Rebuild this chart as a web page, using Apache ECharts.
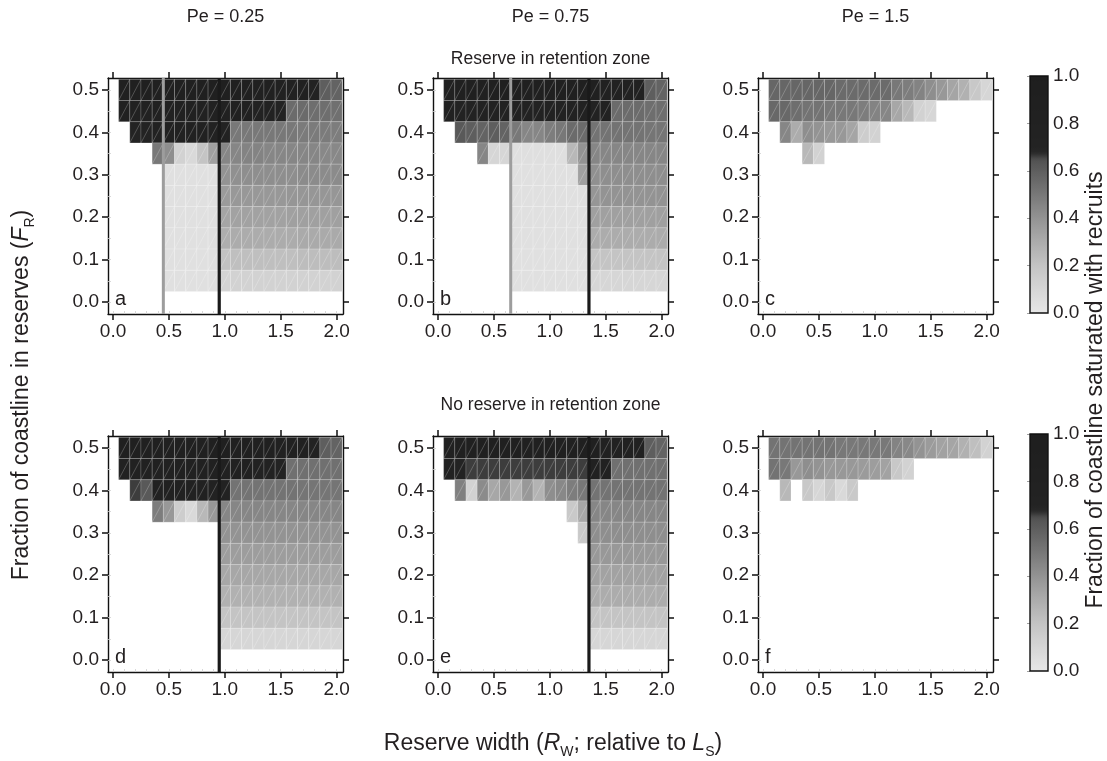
<!DOCTYPE html>
<html>
<head>
<meta charset="utf-8">
<script src="https://cdn.jsdelivr.net/npm/echarts@6/dist/echarts.min.js"></script>
<style>html,body{margin:0;padding:0;background:#fff}#c{width:1107px;height:761px}</style>
</head>
<body>
<div id="c"></div>
<script>
// ---------- DATA ----------
const xCenters = [0.0,0.1,0.2,0.3,0.4,0.5,0.6,0.7,0.8,0.9,1.0,1.1,1.2,1.3,1.4,1.5,1.6,1.7,1.8,1.9,2.0];
const yCenters = [0.5,0.45,0.4,0.35,0.3,0.25,0.2,0.15,0.1,0.05,0.0];
const xTickValues = [0.0,0.5,1.0,1.5,2.0];
const yTickValues = [0.0,0.1,0.2,0.3,0.4,0.5];
const cbTickValues = [0.0,0.2,0.4,0.6,0.8,1.0];
const panelLetters = ['a','b','c','d','e','f'];
const colTitles = ['Pe = 0.25','Pe = 0.75','Pe = 1.5'];
const rowTitles = ['Reserve in retention zone','No reserve in retention zone'];
const grayLineX = [0.45, 0.65, null, null, null, null];
const blackLineX = [0.95, 1.35, null, 0.95, 1.35, null];
const N = null;

const panelA = [
  [N,0.86,0.87,0.87,0.88,0.88,0.88,0.88,0.89,0.89,0.88,0.88,0.87,0.87,0.86,0.85,0.84,0.82,0.78,0.6,0.58],
  [N,0.8,0.81,0.82,0.82,0.83,0.83,0.83,0.83,0.83,0.82,0.81,0.8,0.78,0.76,0.72,0.55,0.55,0.54,0.54,0.53],
  [N,N,0.7,0.72,0.78,0.8,0.8,0.8,0.8,0.79,0.78,0.5,0.5,0.5,0.5,0.5,0.5,0.49,0.49,0.49,0.48],
  [N,N,N,N,0.5,0.42,0.12,0.08,0.2,0.35,0.45,0.45,0.46,0.46,0.45,0.45,0.45,0.45,0.45,0.44,0.44],
  [N,N,N,N,N,0.04,0.04,0.04,0.04,0.04,0.4,0.41,0.42,0.42,0.42,0.42,0.42,0.43,0.43,0.43,0.43],
  [N,N,N,N,N,0.04,0.04,0.04,0.04,0.04,0.37,0.38,0.38,0.38,0.38,0.38,0.39,0.39,0.39,0.39,0.39],
  [N,N,N,N,N,0.04,0.04,0.04,0.04,0.04,0.33,0.34,0.34,0.34,0.34,0.34,0.35,0.35,0.35,0.35,0.35],
  [N,N,N,N,N,0.04,0.04,0.04,0.04,0.04,0.29,0.3,0.3,0.3,0.3,0.3,0.3,0.31,0.31,0.31,0.31],
  [N,N,N,N,N,0.04,0.04,0.04,0.04,0.04,0.21,0.22,0.22,0.22,0.22,0.22,0.22,0.23,0.23,0.23,0.23],
  [N,N,N,N,N,0.04,0.04,0.04,0.04,0.04,0.11,0.12,0.12,0.12,0.12,0.12,0.12,0.12,0.12,0.12,0.12],
  [N,N,N,N,N,N,N,N,N,N,N,N,N,N,N,N,N,N,N,N,N]
];
const panelB = [
  [N,0.85,0.86,0.86,0.87,0.87,0.87,0.88,0.88,0.88,0.87,0.87,0.87,0.86,0.86,0.85,0.85,0.83,0.8,0.6,0.58],
  [N,0.8,0.78,0.76,0.76,0.76,0.76,0.75,0.75,0.75,0.75,0.75,0.76,0.77,0.78,0.75,0.55,0.55,0.55,0.54,0.54],
  [N,N,0.62,0.6,0.58,0.6,0.58,0.5,0.45,0.45,0.48,0.5,0.55,0.55,0.52,0.52,0.52,0.52,0.52,0.51,0.51],
  [N,N,N,N,0.45,0.1,0.1,0.05,0.05,0.05,0.05,0.05,0.25,0.4,0.45,0.45,0.45,0.45,0.45,0.45,0.45],
  [N,N,N,N,N,N,N,0.04,0.04,0.04,0.04,0.04,0.04,0.35,0.41,0.42,0.42,0.42,0.42,0.42,0.42],
  [N,N,N,N,N,N,N,0.04,0.04,0.04,0.04,0.04,0.04,0.04,0.39,0.4,0.4,0.4,0.4,0.4,0.4],
  [N,N,N,N,N,N,N,0.04,0.04,0.04,0.04,0.04,0.04,0.04,0.35,0.35,0.35,0.35,0.35,0.35,0.35],
  [N,N,N,N,N,N,N,0.04,0.04,0.04,0.04,0.04,0.04,0.04,0.3,0.3,0.3,0.3,0.3,0.3,0.3],
  [N,N,N,N,N,N,N,0.04,0.04,0.04,0.04,0.04,0.04,0.04,0.2,0.2,0.2,0.2,0.2,0.2,0.2],
  [N,N,N,N,N,N,N,0.04,0.04,0.04,0.04,0.04,0.04,0.04,0.1,0.1,0.1,0.1,0.1,0.1,0.1],
  [N,N,N,N,N,N,N,N,N,N,N,N,N,N,N,N,N,N,N,N,N]
];
const panelC = [
  [N,0.57,0.57,0.57,0.57,0.57,0.57,0.55,0.55,0.55,0.55,0.55,0.5,0.48,0.46,0.42,0.38,0.33,0.28,0.18,0.1],
  [N,0.56,0.56,0.54,0.52,0.52,0.5,0.5,0.5,0.48,0.46,0.45,0.32,0.25,0.12,0.1,N,N,N,N,N],
  [N,N,0.45,0.3,0.42,0.4,0.38,0.38,0.33,0.15,0.12,N,N,N,N,N,N,N,N,N,N],
  [N,N,N,N,0.25,0.12,N,N,N,N,N,N,N,N,N,N,N,N,N,N,N],
  [N,N,N,N,N,N,N,N,N,N,N,N,N,N,N,N,N,N,N,N,N],
  [N,N,N,N,N,N,N,N,N,N,N,N,N,N,N,N,N,N,N,N,N],
  [N,N,N,N,N,N,N,N,N,N,N,N,N,N,N,N,N,N,N,N,N],
  [N,N,N,N,N,N,N,N,N,N,N,N,N,N,N,N,N,N,N,N,N],
  [N,N,N,N,N,N,N,N,N,N,N,N,N,N,N,N,N,N,N,N,N],
  [N,N,N,N,N,N,N,N,N,N,N,N,N,N,N,N,N,N,N,N,N],
  [N,N,N,N,N,N,N,N,N,N,N,N,N,N,N,N,N,N,N,N,N]
];
const panelD = [
  [N,0.86,0.87,0.87,0.88,0.88,0.88,0.88,0.89,0.89,0.88,0.88,0.87,0.87,0.86,0.85,0.84,0.82,0.78,0.6,0.58],
  [N,0.8,0.81,0.82,0.82,0.83,0.83,0.83,0.83,0.83,0.82,0.81,0.8,0.78,0.76,0.72,0.53,0.53,0.53,0.53,0.53],
  [N,N,0.66,0.62,0.8,0.8,0.8,0.8,0.8,0.79,0.78,0.52,0.52,0.52,0.52,0.52,0.52,0.51,0.51,0.51,0.51],
  [N,N,N,N,0.48,0.38,0.15,0.08,0.25,0.38,0.45,0.45,0.45,0.45,0.45,0.45,0.45,0.45,0.45,0.45,0.45],
  [N,N,N,N,N,N,N,N,N,N,0.4,0.4,0.4,0.4,0.4,0.4,0.4,0.4,0.4,0.4,0.4],
  [N,N,N,N,N,N,N,N,N,N,0.36,0.36,0.36,0.36,0.36,0.36,0.36,0.36,0.36,0.36,0.36],
  [N,N,N,N,N,N,N,N,N,N,0.32,0.32,0.32,0.32,0.32,0.32,0.32,0.32,0.32,0.32,0.32],
  [N,N,N,N,N,N,N,N,N,N,0.28,0.28,0.28,0.28,0.28,0.28,0.28,0.28,0.28,0.28,0.28],
  [N,N,N,N,N,N,N,N,N,N,0.2,0.2,0.2,0.2,0.2,0.2,0.2,0.2,0.2,0.2,0.2],
  [N,N,N,N,N,N,N,N,N,N,0.1,0.1,0.1,0.1,0.1,0.1,0.1,0.1,0.1,0.1,0.1],
  [N,N,N,N,N,N,N,N,N,N,N,N,N,N,N,N,N,N,N,N,N]
];
const panelE = [
  [N,0.85,0.86,0.86,0.87,0.87,0.87,0.88,0.88,0.88,0.87,0.87,0.87,0.86,0.86,0.85,0.85,0.83,0.8,0.6,0.58],
  [N,0.75,0.72,0.66,0.66,0.66,0.66,0.66,0.66,0.66,0.66,0.66,0.66,0.66,0.8,0.8,0.53,0.53,0.53,0.53,0.53],
  [N,N,0.47,0.12,0.43,0.32,0.38,0.27,0.38,0.27,0.42,0.44,0.48,0.5,0.52,0.52,0.52,0.52,0.52,0.52,0.52],
  [N,N,N,N,N,N,N,N,N,N,N,N,0.17,0.32,0.45,0.45,0.45,0.45,0.45,0.45,0.45],
  [N,N,N,N,N,N,N,N,N,N,N,N,N,0.17,0.42,0.42,0.42,0.42,0.42,0.42,0.42],
  [N,N,N,N,N,N,N,N,N,N,N,N,N,N,0.38,0.38,0.38,0.38,0.38,0.38,0.38],
  [N,N,N,N,N,N,N,N,N,N,N,N,N,N,0.34,0.34,0.34,0.34,0.34,0.34,0.34],
  [N,N,N,N,N,N,N,N,N,N,N,N,N,N,0.3,0.3,0.3,0.3,0.3,0.3,0.3],
  [N,N,N,N,N,N,N,N,N,N,N,N,N,N,0.2,0.2,0.2,0.2,0.2,0.2,0.2],
  [N,N,N,N,N,N,N,N,N,N,N,N,N,N,0.1,0.1,0.1,0.1,0.1,0.1,0.1],
  [N,N,N,N,N,N,N,N,N,N,N,N,N,N,N,N,N,N,N,N,N]
];
const panelF = [
  [N,0.52,0.52,0.52,0.52,0.52,0.52,0.5,0.5,0.5,0.5,0.5,0.46,0.44,0.4,0.37,0.34,0.33,0.28,0.22,0.12],
  [N,0.52,0.5,0.38,0.42,0.4,0.38,0.38,0.38,0.37,0.36,0.34,0.18,0.12,N,N,N,N,N,N,N],
  [N,N,0.25,N,0.18,0.1,0.18,0.08,0.17,N,N,N,N,N,N,N,N,N,N,N,N],
  [N,N,N,N,N,N,N,N,N,N,N,N,N,N,N,N,N,N,N,N,N],
  [N,N,N,N,N,N,N,N,N,N,N,N,N,N,N,N,N,N,N,N,N],
  [N,N,N,N,N,N,N,N,N,N,N,N,N,N,N,N,N,N,N,N,N],
  [N,N,N,N,N,N,N,N,N,N,N,N,N,N,N,N,N,N,N,N,N],
  [N,N,N,N,N,N,N,N,N,N,N,N,N,N,N,N,N,N,N,N,N],
  [N,N,N,N,N,N,N,N,N,N,N,N,N,N,N,N,N,N,N,N,N],
  [N,N,N,N,N,N,N,N,N,N,N,N,N,N,N,N,N,N,N,N,N],
  [N,N,N,N,N,N,N,N,N,N,N,N,N,N,N,N,N,N,N,N,N]
];
const panels = [panelA, panelB, panelC, panelD, panelE, panelF];

// ---------- STYLE / LAYOUT ----------
const FONT = '"Liberation Sans", Arial, Helvetica, sans-serif';
const TXT = '#231f20';
const TICK_FS = 19;
const colLefts = [108, 433, 758];
const rowTops = [78, 436];
const PW = 235, PH = 236;
const X_MIN = -0.045, X_MAX = 2.057, Y_MIN = -0.028, Y_MAX = 0.528;
const CELL_W = 0.1, CELL_H = 0.05;
const cbLeft = 1030, cbW = 18;

const grayStops = [[0,231],[0.1,214],[0.2,196],[0.3,172],[0.4,147],[0.5,120],[0.6,94],[0.645,82],[0.675,40],[0.7,35],[1,30]];
function cmap(v){
  v = Math.max(0, Math.min(1, v));
  for (let i = 1; i < grayStops.length; i++) {
    const a = grayStops[i-1], b = grayStops[i];
    if (v <= b[0]) {
      const t = (v - a[0]) / (b[0] - a[0]);
      const g = Math.round(a[1] + t * (b[1] - a[1]));
      return 'rgb(' + g + ',' + g + ',' + g + ')';
    }
  }
  return 'rgb(30,30,30)';
}

function renderCell(params, api){
  const x = api.value(0), y = api.value(1), v = api.value(2);
  const p0 = api.coord([x - CELL_W/2, y - CELL_H/2]);
  const p1 = api.coord([x + CELL_W/2, y + CELL_H/2]);
  return {
    type: 'group',
    children: [
      {type:'rect', shape:{x:p0[0], y:p1[1], width:p1[0]-p0[0], height:p0[1]-p1[1]},
       style:{fill:cmap(v), stroke:'rgba(255,255,255,0.28)', lineWidth:0.6}},
      {type:'line', shape:{x1:p0[0], y1:p0[1], x2:p1[0], y2:p1[1]},
       style:{stroke:'rgba(255,255,255,0.38)', lineWidth:0.6}}
    ]
  };
}

const grids = [], xAxes = [], yAxes = [], series = [], graphics = [];
const axisLineStyle = {color:'#111', width:1.4};
const tickStyle = {color:'#111', width:1.5};

panels.forEach((panel, k) => {
  const r = Math.floor(k / 3), c = k % 3;
  const left = colLefts[c], top = rowTops[r];
  grids.push({left:left, top:top, width:PW, height:PH, containLabel:false});
  const base = xAxes.length;
  xAxes.push({gridIndex:k, type:'value', position:'bottom', min:X_MIN, max:X_MAX,
    axisLine:{show:true, onZero:false, lineStyle:axisLineStyle},
    axisTick:{show:true, inside:false, length:6, customValues:xTickValues, lineStyle:tickStyle},
    axisLabel:{show:true, customValues:xTickValues, margin:8, fontFamily:FONT, fontSize:TICK_FS, color:TXT, formatter:v=>v.toFixed(1)},
    splitLine:{show:false}});
  xAxes.push({gridIndex:k, type:'value', position:'top', min:X_MIN, max:X_MAX,
    axisLine:{show:true, onZero:false, lineStyle:axisLineStyle},
    axisTick:{show:true, inside:false, length:6, customValues:xTickValues, lineStyle:tickStyle},
    axisLabel:{show:false}, splitLine:{show:false}});
  xAxes.push({gridIndex:k, type:'value', position:'bottom', min:X_MIN, max:X_MAX,
    axisLine:{show:false, onZero:false},
    axisTick:{show:true, inside:true, length:3, customValues:xCenters, lineStyle:{color:'#cfcfcf', width:0.8}},
    axisLabel:{show:false}, splitLine:{show:false}});
  yAxes.push({gridIndex:k, type:'value', position:'left', min:Y_MIN, max:Y_MAX,
    axisLine:{show:true, onZero:false, lineStyle:axisLineStyle},
    axisTick:{show:true, inside:false, length:6, customValues:yTickValues, lineStyle:tickStyle},
    axisLabel:{show:true, customValues:yTickValues, margin:9, fontFamily:FONT, fontSize:TICK_FS, color:TXT, formatter:v=>v.toFixed(1)},
    splitLine:{show:false}});
  yAxes.push({gridIndex:k, type:'value', position:'right', min:Y_MIN, max:Y_MAX,
    axisLine:{show:true, onZero:false, lineStyle:axisLineStyle},
    axisTick:{show:true, inside:false, length:6, customValues:yTickValues, lineStyle:tickStyle},
    axisLabel:{show:false}, splitLine:{show:false}});
  yAxes.push({gridIndex:k, type:'value', position:'left', min:Y_MIN, max:Y_MAX,
    axisLine:{show:false, onZero:false},
    axisTick:{show:true, inside:true, length:3, customValues:yCenters, lineStyle:{color:'#cfcfcf', width:0.8}},
    axisLabel:{show:false}, splitLine:{show:false}});

  const data = [];
  panel.forEach((row, ri) => row.forEach((v, ci) => {
    if (v !== null) data.push([xCenters[ci], yCenters[ri], v]);
  }));
  series.push({type:'custom', xAxisIndex:base, yAxisIndex:base, renderItem:renderCell, data:data, clip:true, silent:true, z:2});

  if (grayLineX[k] !== null) {
    series.push({type:'line', xAxisIndex:base, yAxisIndex:base, data:[[grayLineX[k], Y_MIN],[grayLineX[k], Y_MAX]],
      symbol:'none', lineStyle:{color:'#9d9d9d', width:3}, silent:true, z:5, animation:false});
  }
  if (blackLineX[k] !== null) {
    series.push({type:'line', xAxisIndex:base, yAxisIndex:base, data:[[blackLineX[k], Y_MIN],[blackLineX[k], Y_MAX]],
      symbol:'none', lineStyle:{color:'#1a1a1a', width:3.2}, silent:true, z:5, animation:false});
  }
  graphics.push({type:'text', left:left + 7, top:top + PH - 25, z:10,
    style:{text:panelLetters[k], fontFamily:FONT, fontSize:20, fill:TXT}});
});

// colorbars
const cbStops = [];
for (let i = 0; i <= 100; i++) cbStops.push({offset:i/100, color:cmap(i/100)});
[0,1].forEach(r => {
  const gi = grids.length;
  grids.push({left:cbLeft, top:rowTops[r] - 2, width:cbW, height:PH + 1});
  const base = xAxes.length;
  xAxes.push({gridIndex:gi, type:'value', min:0, max:1, show:false});
  yAxes.push({gridIndex:gi, type:'value', min:0, max:1, interval:0.2, position:'right',
    axisLine:{show:false}, axisTick:{show:true, inside:true, length:3, lineStyle:{color:'#888', width:0.8}},
    axisLabel:{show:true, margin:5, fontFamily:FONT, fontSize:TICK_FS, color:TXT, formatter:v=>v.toFixed(1)},
    splitLine:{show:false}});
  series.push({type:'custom', xAxisIndex:base, yAxisIndex:base, silent:true, data:[[0,0]], z:2,
    renderItem:function(params, api){
      const p0 = api.coord([0,0]), p1 = api.coord([1,1]);
      return {type:'rect', shape:{x:p0[0], y:p1[1], width:p1[0]-p0[0], height:p0[1]-p1[1]},
        style:{fill:new echarts.graphic.LinearGradient(0,1,0,0,cbStops), stroke:'#111', lineWidth:1.4}};
    }});
});

// titles
colTitles.forEach((t, c) => {
  graphics.push({type:'text', x:colLefts[c] + PW/2, y:17, style:{text:t, fontFamily:FONT, fontSize:18, fill:TXT, align:'center', verticalAlign:'middle'}});
});
graphics.push({type:'text', x:colLefts[1] + PW/2, y:59, style:{text:rowTitles[0], fontFamily:FONT, fontSize:17.5, fill:TXT, align:'center', verticalAlign:'middle'}});
graphics.push({type:'text', x:colLefts[1] + PW/2, y:405, style:{text:rowTitles[1], fontFamily:FONT, fontSize:17.5, fill:TXT, align:'center', verticalAlign:'middle'}});

const richAx = {
  i:{fontFamily:FONT, fontSize:23, fontStyle:'italic', fill:TXT, lineHeight:30, verticalAlign:'middle'},
  s:{fontFamily:FONT, fontSize:14, fill:TXT, lineHeight:30, verticalAlign:'bottom'},
  n:{fontFamily:FONT, fontSize:23, fill:TXT, lineHeight:30, verticalAlign:'middle'}
};
graphics.push({type:'text', x:553, y:744, style:{
  text:'{n|Reserve width (}{i|R}{s|W}{n|; relative to }{i|L}{s|S}{n|)}',
  rich:richAx, align:'center', verticalAlign:'middle'}});
graphics.push({type:'text', x:22, y:395, rotation:Math.PI/2, style:{
  text:'{n|Fraction of coastline in reserves (}{i|F}{s|R}{n|)}',
  rich:richAx, align:'center', verticalAlign:'middle'}});
graphics.push({type:'text', x:1096, y:390, rotation:Math.PI/2, style:{
  text:'Fraction of coastline saturated with recruits', fontFamily:FONT, fontSize:23, fill:TXT, align:'center', verticalAlign:'middle'}});

const chart = echarts.init(document.getElementById('c'), null, {renderer:'canvas'});
chart.setOption({
  animation:false,
  backgroundColor:'#fff',
  grid:grids, xAxis:xAxes, yAxis:yAxes, series:series, graphic:graphics
});
</script>
</body>
</html>
